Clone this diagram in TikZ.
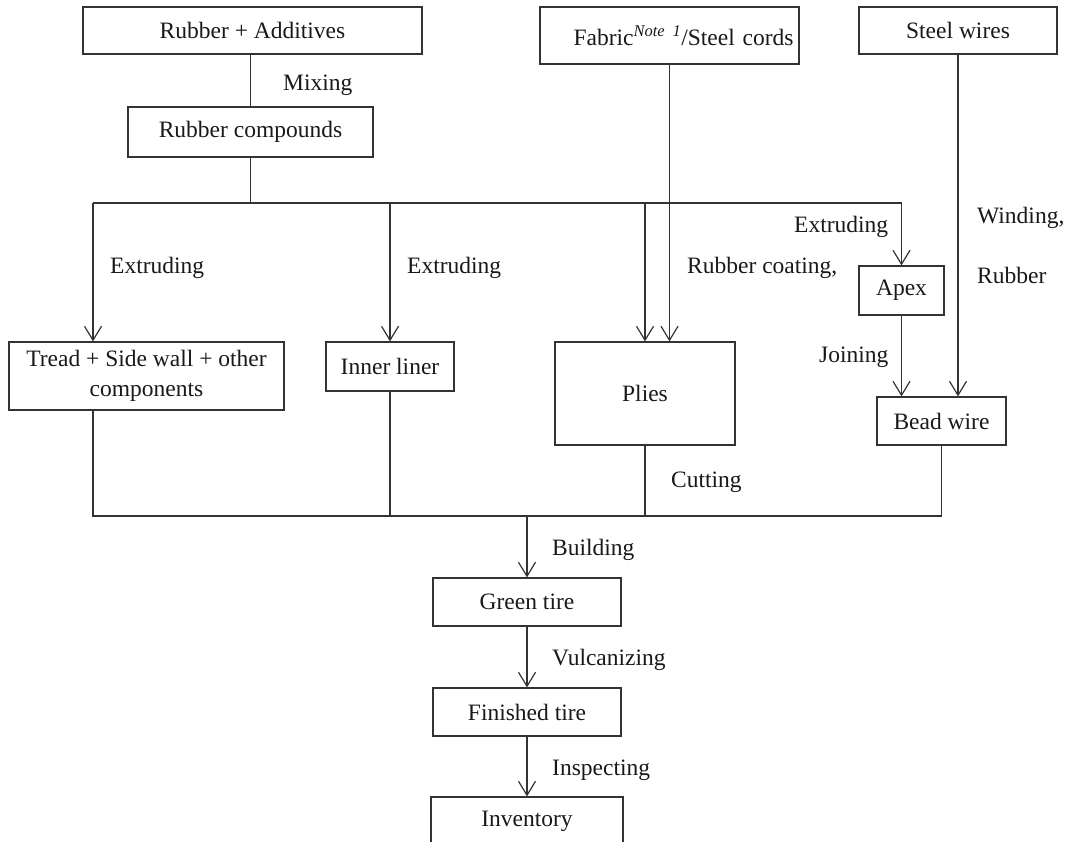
\documentclass[tikz,border=0pt]{standalone}
\usepackage{fontspec}
\setmainfont{Liberation Serif}
\usetikzlibrary{arrows.meta}
\definecolor{ink}{HTML}{333333}
\begin{document}
\begin{tikzpicture}[x=1pt,y=-1pt,
  box/.style={draw=ink,line width=1.2pt,rectangle,inner sep=0pt,align=center,
    font=\fontsize{23.5}{30}\selectfont,text=black!90},
  lbl/.style={anchor=base west,inner sep=0pt,font=\fontsize{23.5}{28}\selectfont,text=black!90},
  conn/.style={draw=ink,line width=1.2pt},
  arr/.style={conn,-{Straight Barb[length=14pt,width=17pt,line width=1.2pt]}}]
\useasboundingbox (0,0) rectangle (1090,841);
\clip (0,0) rectangle (1090,841);

% raw materials
\node[box,minimum width=339pt,minimum height=47pt] (ra) at (252.5,30.5) {Rubber + Additives};
\node[box,minimum width=259pt,minimum height=57pt,text width=248pt,inner xsep=5.5pt,align=right] (fab) at (669.5,35.5)
  {Fabric\textsuperscript{\textit{Note 1}}/Steel cords};
\node[box,minimum width=198pt,minimum height=47pt] (sw) at (958,30.5) {Steel wires};
\node[box,minimum width=245pt,minimum height=50pt] (rc) at (250.5,132) {Rubber compounds};

% components
\node[box,minimum width=275pt,minimum height=68pt] (tread) at (146.5,376) {Tread + Side wall + other\\components};
\node[box,minimum width=128pt,minimum height=49pt] (inner) at (390,366.5) {Inner liner};
\node[box,minimum width=180pt,minimum height=103pt] (plies) at (645,393.5) {Plies};
\node[box,minimum width=85pt,minimum height=49pt] (apex) at (901.5,290.5) {Apex};
\node[box,minimum width=129pt,minimum height=48pt] (bead) at (941.5,421) {Bead wire};

% tire stages
\node[box,minimum width=188pt,minimum height=48pt] (green) at (527,602) {Green tire};
\node[box,minimum width=188pt,minimum height=48pt] (fin) at (527,712) {Finished tire};
\node[box,minimum width=192pt,minimum height=48pt] (inv) at (527,821) {Inventory};

% distribution and collection buses
\coordinate (bT) at (93,203);
\coordinate (bI) at (390,203);
\coordinate (bP) at (645,203);
\coordinate (bA) at (901.5,203);
\coordinate (bot) at (527,516);

\draw[conn] (ra.south -| rc.north) -- (rc.north);
\draw[conn] (rc.south) -- (rc.south |- bT);
\draw[conn] (bT) -- (bA);
\draw[arr] (bT) -- (bT |- tread.north);
\draw[arr] (bI) -- (inner.north);
\draw[arr] (bP) -- (plies.north);
\draw[arr] (fab.south) -- (fab.south |- plies.north);
\draw[arr] (bA) -- (apex.north);
\draw[arr] (apex.south) -- (apex.south |- bead.north);
\draw[arr] (sw.south) -- (sw.south |- bead.north);

\draw[conn] (tread.south -| bT) |- (bead.south |- bot) -- (bead.south);
\draw[conn] (inner.south) -- (inner.south |- bot);
\draw[conn] (plies.south) -- (plies.south |- bot);
\draw[arr] (bot) -- (green.north);
\draw[arr] (green.south) -- (fin.north);
\draw[arr] (fin.south) -- (inv.north);

% process labels
\node[lbl] (lmix) at (283,90.5) {Mixing};
\node[lbl] (lext1) at (110,273) {Extruding};
\node[lbl] (lext2) at (407,273) {Extruding};
\node[lbl] (lcoat) at (687,273) {Rubber coating,};
\node[lbl] (lext3) at (794,232) {Extruding};
\node[lbl] (lwind) at (977,223) {Winding,};
\node[lbl] (lrub) at (977,283.5) {Rubber};
\node[lbl] (ljoin) at (819,362) {Joining};
\node[lbl] (lcut) at (671,487) {Cutting};
\node[lbl] (lbuild) at (552,555) {Building};
\node[lbl] (lvulc) at (552,665) {Vulcanizing};
\node[lbl] (linsp) at (552,775) {Inspecting};
\end{tikzpicture}
\end{document}
